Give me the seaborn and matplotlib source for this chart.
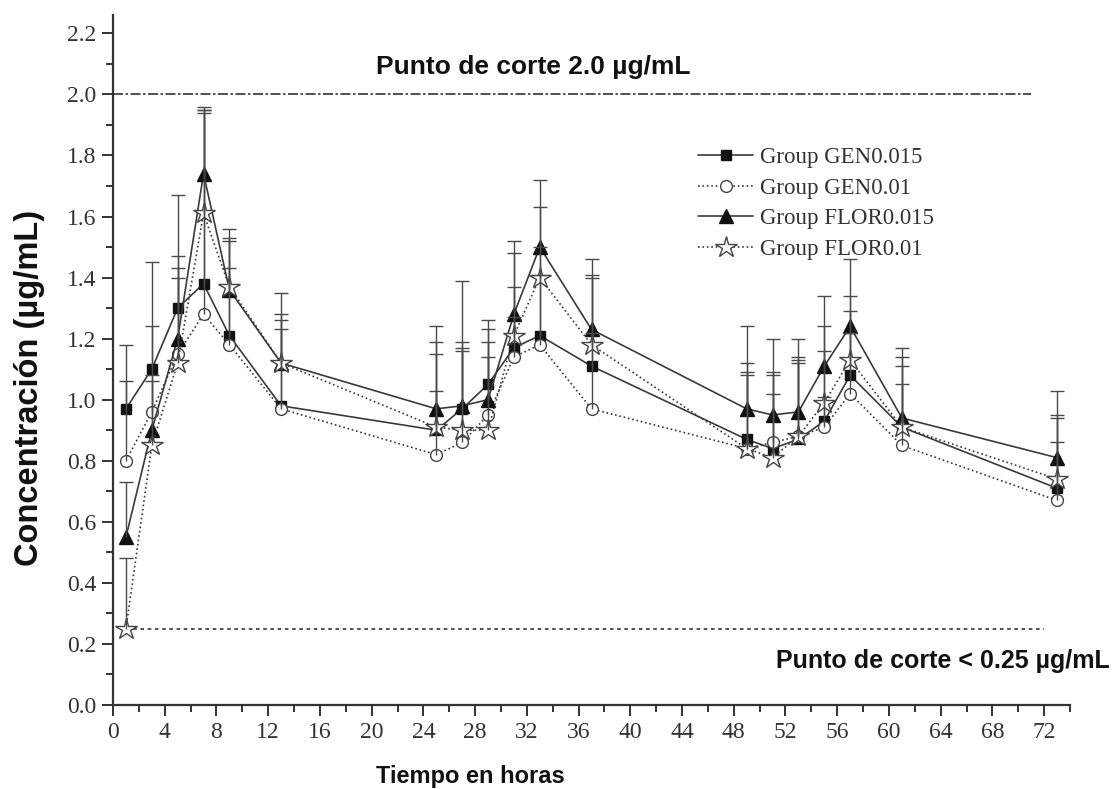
import numpy as np
import pandas as pd
import matplotlib
matplotlib.use("Agg")
import matplotlib.pyplot as plt
from matplotlib.ticker import MultipleLocator
import seaborn as sns

# Sampling times (h)
times = [1, 3, 5, 7, 9, 13, 25, 27, 29, 31, 33, 37, 49, 51, 53, 55, 57, 61, 73]

# Mean plasma concentration (ug/mL) per group
gen015 = [0.97, 1.10, 1.30, 1.38, 1.21, 0.98, 0.90, 0.97, 1.05, 1.17, 1.21, 1.11,
          0.87, 0.84, 0.87, 0.93, 1.08, 0.91, 0.71]
gen001 = [0.80, 0.96, 1.15, 1.28, 1.18, 0.97, 0.82, 0.86, 0.95, 1.14, 1.18, 0.97,
          0.84, 0.86, 0.88, 0.91, 1.02, 0.85, 0.67]
flor015 = [0.55, 0.90, 1.20, 1.74, 1.36, 1.12, 0.97, 0.98, 1.00, 1.28, 1.50, 1.23,
           0.97, 0.95, 0.96, 1.11, 1.24, 0.94, 0.81]
flor001 = [0.25, 0.85, 1.12, 1.61, 1.37, 1.12, 0.91, 0.90, 0.90, 1.21, 1.40, 1.18,
           0.84, 0.81, 0.88, 0.99, 1.13, 0.91, 0.74]

# Standard deviations (upper bars only)
gen015_sd = [0.21, 0.35, 0.37, 0.56, 0.31, 0.28, 0.25, 0.42, 0.21, 0.20, 0.20, 0.29,
             0.25, 0.24, 0.27, 0.23, 0.21, 0.20, 0.23]
gen001_sd = [0.26, 0.28, 0.25, 0.67, 0.25, 0.26, 0.21, 0.30, 0.24, 0.13, 0.32, 0.25,
             0.25, 0.23, 0.25, 0.10, 0.20, 0.20, 0.19]
flor015_sd = [0.18, 0.18, 0.27, 0.22, 0.17, 0.16, 0.27, 0.21, 0.23, 0.24, 0.22, 0.23,
              0.27, 0.25, 0.24, 0.23, 0.22, 0.23, 0.22]
flor001_sd = [0.23, 0.21, 0.31, 0.34, 0.19, 0.23, 0.28, 0.27, 0.24, 0.27, 0.23, 0.23,
              0.24, 0.21, 0.24, 0.25, 0.21, 0.23, 0.21]

group_names = ["Group GEN0.015", "Group GEN0.01", "Group FLOR0.015", "Group FLOR0.01"]
cutoff_high = 2.0
cutoff_low = 0.25

sns.set_theme(style="ticks")
plt.rcParams["font.family"] = ["Liberation Serif", "DejaVu Serif"]

fig = plt.figure(figsize=(11.17, 7.89), dpi=100)
ax = fig.add_axes([113 / 1117, 1 - 705 / 789, (1070 - 113) / 1117, (705 - 15) / 789])

line_col = "#3a3a3a"
styles = [
    dict(marker="s", ms=7.5, mfc="#111111", mec="#111111", ls="-"),
    dict(marker="o", ms=8.5, mfc="white", mec="#444444", ls=":"),
    dict(marker="^", ms=9.5, mfc="#111111", mec="#111111", ls="-"),
    dict(marker="*", ms=16, mfc="white", mec="#444444", ls=":"),
]
means = [gen015, gen001, flor015, flor001]
sds = [gen015_sd, gen001_sd, flor015_sd, flor001_sd]

for name, m, sd, st in zip(group_names, means, sds, styles):
    df = pd.DataFrame({"t": times, "c": m})
    sns.lineplot(data=df, x="t", y="c", ax=ax, color=line_col, linewidth=1.2,
                 linestyle=st["ls"], marker=st["marker"], markersize=st["ms"],
                 markerfacecolor=st["mfc"], markeredgecolor=st["mec"],
                 markeredgewidth=1.0, errorbar=None, label=name, zorder=3)
    eb = ax.errorbar(times, m, yerr=[np.zeros(len(m)), sd], fmt="none",
                     ecolor="#4a4a4a", elinewidth=1.0, capsize=4.8, capthick=1.0,
                     zorder=4)
    eb[1][0].set_visible(False)

# Breakpoint reference lines
ax.plot([0, 71], [cutoff_high, cutoff_high], color="#333333", lw=1.2,
        ls=(0, (6, 1.5, 1.5, 1.5)), zorder=2)
ax.plot([1, 72], [cutoff_low, cutoff_low], color="#444444", lw=1.3,
        ls=(0, (2, 2)), zorder=2)

txt_font = ["Liberation Sans", "DejaVu Sans"]
ax.text(20.3, 2.09, "Punto de corte 2.0 µg/mL", family=txt_font, fontweight="bold",
        fontsize=19, ha="left", va="center", color="#111111")
ax.text(77.1, 0.145, "Punto de corte < 0.25 µg/mL", family=txt_font,
        fontweight="bold", fontsize=18, ha="right", va="center", color="#111111",
        clip_on=False)

fig.text(30 / 1117, 1 - 388 / 789, "Concentración (µg/mL)", family=txt_font,
         fontweight="bold", fontsize=23.5, rotation=90, ha="center", va="center",
         color="#111111")
fig.text(470 / 1117, 1 - 776 / 789, "Tiempo en horas", family=txt_font,
         fontweight="bold", fontsize=17, ha="center", va="center", color="#111111")

ax.set_xlim(0, 74)
ax.set_ylim(0, 2.26)
ax.set_xlabel("")
ax.set_ylabel("")
ax.xaxis.set_major_locator(MultipleLocator(4))
ax.xaxis.set_minor_locator(MultipleLocator(2))
ax.yaxis.set_major_locator(MultipleLocator(0.2))
ax.yaxis.set_minor_locator(MultipleLocator(0.1))
ax.set_xticks(np.arange(0, 73, 4))
ax.set_yticks(np.round(np.arange(0, 2.21, 0.2), 1))
ax.set_yticklabels([f"{v:.1f}" for v in np.arange(0, 2.21, 0.2)])
ax.tick_params(axis="both", which="major", direction="out", length=8, width=1.4,
               color="#333333", labelsize=17, labelcolor="#333333", pad=4)
ax.tick_params(axis="both", which="minor", direction="out", length=5, width=1.4,
               color="#333333")
for side in ["top", "right"]:
    ax.spines[side].set_visible(False)
for side in ["left", "bottom"]:
    ax.spines[side].set_linewidth(1.6)
    ax.spines[side].set_color("#333333")

leg = ax.legend(loc="upper left", bbox_to_anchor=(0.602, 0.822), frameon=False,
                fontsize=16.5, handlelength=2.4, handletextpad=0.3,
                labelspacing=0.42, borderaxespad=0, numpoints=1)
for t in leg.get_texts():
    t.set_color("#333333")

fig.savefig("out.png", dpi=100, facecolor="white")
